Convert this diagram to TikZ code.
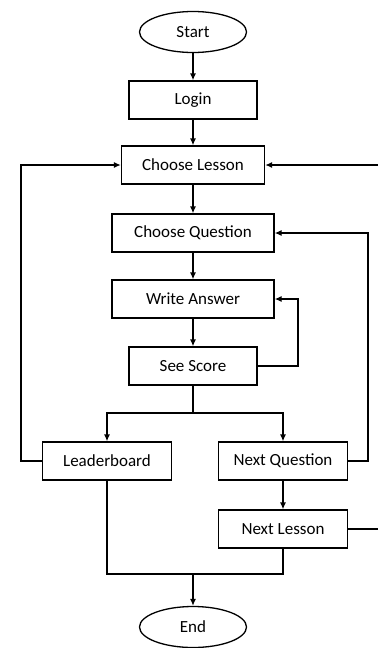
\documentclass[tikz,border=0pt]{standalone}
\usepackage{fontspec}
\setmainfont{Carlito}
\usetikzlibrary{shapes.geometric,arrows.meta}

\begin{document}
\begin{tikzpicture}[x=1pt,y=-1pt,font=\fontsize{17}{20}\selectfont,
	box/.style={draw,line width=1.3pt,minimum height=38pt,inner sep=0pt},
	term/.style={draw,ellipse,line width=1.3pt,minimum width=107pt,minimum height=41pt,inner sep=0pt},
	arr/.style={-{Latex[length=7pt,width=6pt]},line width=1.3pt},
	lin/.style={line width=1.3pt}]
	\useasboundingbox (0,0) rectangle (378,648);

	\node[term] (start) at (193,32) {Start};
	\node[box,minimum width=128pt] (login) at (193,100) {Login};
	\node[box,minimum width=143pt] (lesson) at (193,165) {Choose Lesson};
	\node[box,minimum width=162pt] (question) at (193,233) {Choose Question};
	\node[box,minimum width=162pt] (answer) at (193,299) {Write Answer};
	\node[box,minimum width=128pt] (score) at (193,366) {See Score};
	\node[box,minimum width=129pt] (board) at (107,461) {Leaderboard};
	\node[box,minimum width=129pt] (nextq) at (283,461) {Next Question};
	\node[box,minimum width=129pt] (nextl) at (283,529) {Next Lesson};
	\node[term] (end) at (193,627) {End};

	\coordinate (split) at (193,413);
	\coordinate (merge) at (193,574);
	\coordinate (lloop) at (21,461);
	\coordinate (rloop) at (368,461);
	\coordinate (sloop) at (298,366);
	\coordinate (redge1) at (378,165);
	\coordinate (redge2) at (378,529);

	\draw[arr] (start) -- (login);
	\draw[arr] (login) -- (lesson);
	\draw[arr] (lesson) -- (question);
	\draw[arr] (question) -- (answer);
	\draw[arr] (answer) -- (score);
	\draw[arr] (score.east) -- (sloop) |- (answer.east);

	\draw[lin] (score) -- (split);
	\draw[arr] (split) -| (board);
	\draw[arr] (split) -| (nextq);
	\draw[arr] (board.west) -- (lloop) |- (lesson.west);
	\draw[arr] (nextq.east) -- (rloop) |- (question.east);
	\draw[arr] (nextq) -- (nextl);
	\draw[lin] (nextl.east) -- (redge2);
	\draw[arr] (redge1) -- (lesson.east);

	\draw[lin] (board) |- (merge);
	\draw[lin] (nextl) |- (merge);
	\draw[arr] (merge) -- (end);
\end{tikzpicture}
\end{document}
